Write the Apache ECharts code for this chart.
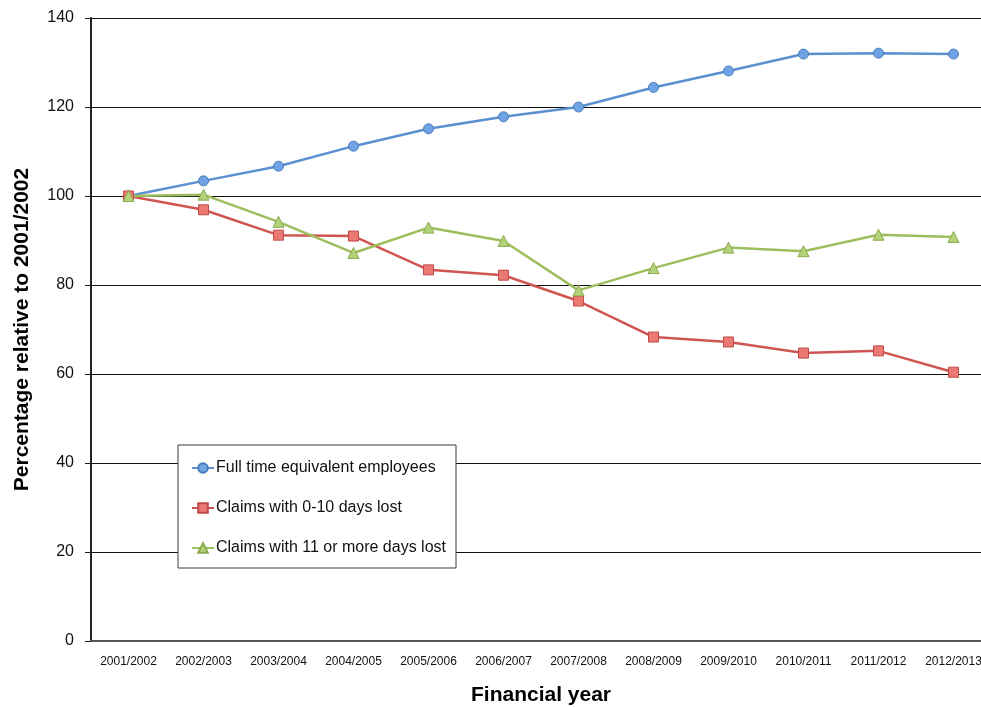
<!DOCTYPE html>
<html>
<head>
<meta charset="utf-8">
<script src="https://cdn.jsdelivr.net/npm/echarts@6/dist/echarts.min.js"></script>
<style>
  html, body { margin: 0; padding: 0; background: #fff; overflow: hidden; }
  #chart { width: 991px; height: 707px; }
</style>
</head>
<body>
<div id="chart"></div>
<script>
// Financial years on the horizontal axis
const years = ['2001/2002', '2002/2003', '2003/2004', '2004/2005', '2005/2006', '2006/2007',
               '2007/2008', '2008/2009', '2009/2010', '2010/2011', '2011/2012', '2012/2013'];

// Index values, 2001/2002 = 100
const fteEmployees = [100, 103.4, 106.7, 111.2, 115.1, 117.8, 120.0, 124.4, 128.1, 131.9, 132.1, 131.9];
const claimsShort  = [100, 96.9, 91.2, 91.0, 83.4, 82.2, 76.4, 68.3, 67.2, 64.7, 65.2, 60.4];
const claimsLong   = [100, 100.3, 94.2, 87.2, 92.9, 89.9, 78.8, 83.8, 88.4, 87.6, 91.3, 90.8];

const seriesNames = ['Full time equivalent employees', 'Claims with 0-10 days lost', 'Claims with 11 or more days lost'];

const FONT = '"Liberation Sans", Arial, sans-serif';

const chart = echarts.init(document.getElementById('chart'), null, { renderer: 'canvas' });

function lineSeries(name, data, lineColor, fill, border, symbol, size) {
  return {
    name: name,
    type: 'line',
    data: data,
    symbol: symbol,
    symbolSize: size,
    lineStyle: { color: lineColor, width: 2.5 },
    itemStyle: { color: fill, borderColor: border, borderWidth: 1 },
    emphasis: { disabled: true },
    z: 3
  };
}

chart.setOption({
  animation: false,
  backgroundColor: '#ffffff',
  grid: { left: 91, top: 18, right: 0, bottom: 66, containLabel: false, outerBoundsMode: 'none' },
  legend: {
    orient: 'vertical',
    left: 178,
    top: 445,
    padding: [15, 10, 12, 13],
    itemGap: 24,
    itemWidth: 22,
    itemHeight: 12,
    backgroundColor: '#ffffff',
    borderColor: '#3a3a3a',
    borderWidth: 1,
    textStyle: { fontFamily: FONT, fontSize: 16, color: '#111', padding: [0, 0, 0, -3] },
    data: seriesNames,
    z: 10
  },
  xAxis: {
    type: 'category',
    data: years,
    boundaryGap: true,
    name: 'Financial year',
    nameLocation: 'middle',
    nameGap: 44,
    nameTextStyle: { fontFamily: FONT, fontSize: 21, fontWeight: 'bold', color: '#000' },
    axisLine: { lineStyle: { color: '#555', width: 2 } },
    axisTick: { alignWithLabel: true, length: 5, lineStyle: { color: '#444' } },
    axisLabel: { fontFamily: FONT, fontSize: 12, color: '#111', margin: 15, interval: 0 },
    splitLine: { show: false }
  },
  yAxis: {
    type: 'value',
    min: 0,
    max: 140,
    interval: 20,
    name: 'Percentage relative to 2001/2002',
    nameLocation: 'middle',
    nameGap: 58,
    nameRotate: 90,
    nameTextStyle: { fontFamily: FONT, fontSize: 21, fontWeight: 'bold', color: '#000' },
    axisLine: { show: true, lineStyle: { color: '#222', width: 2 } },
    axisTick: { show: true, length: 6, lineStyle: { color: '#222' } },
    axisLabel: { fontFamily: FONT, fontSize: 16, color: '#111', margin: 17 },
    splitLine: { show: true, lineStyle: { color: '#111', width: 1 } }
  },
  series: [
    lineSeries(seriesNames[0], fteEmployees, '#5b8fd0', '#6fa3e3', '#4a7ebb', 'circle', 10),
    lineSeries(seriesNames[1], claimsShort, '#cf5550', '#ec7874', '#be4b48', 'rect', 10),
    lineSeries(seriesNames[2], claimsLong, '#9dbe5c', '#b3d27a', '#8cab4f', 'triangle', 11)
  ]
});
</script>
</body>
</html>
